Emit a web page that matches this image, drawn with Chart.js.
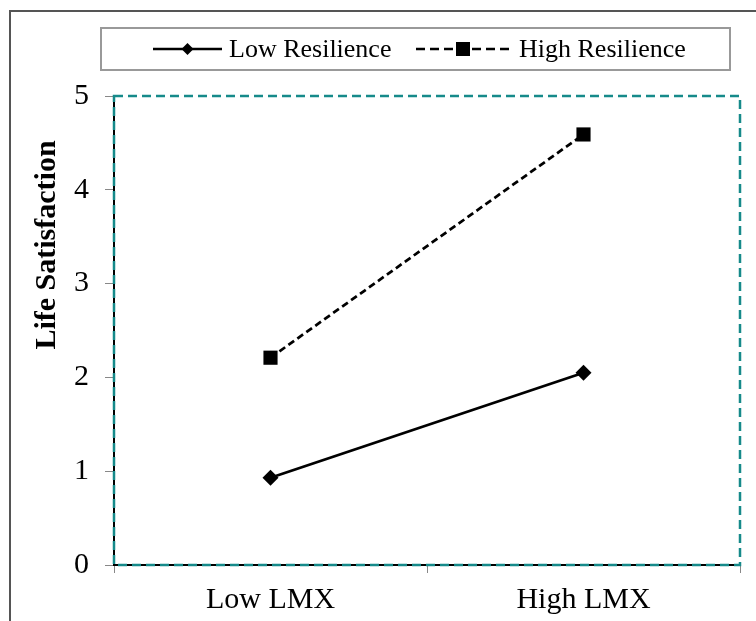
<!DOCTYPE html>
<html>
<head>
<meta charset="utf-8">
<script src="https://cdn.jsdelivr.net/npm/chart.js@4.4.1/dist/chart.umd.min.js"></script>
<style>
  html, body { margin: 0; padding: 0; background: #fff; }
  .chart-container { position: relative; width: 756px; height: 621px; }
</style>
</head>
<body>
<div class="chart-container"><canvas id="chart"></canvas></div>
<script>
const categories = ['Low LMX', 'High LMX'];
const seriesNames = ['Low Resilience', 'High Resilience'];
const lowResilience = [0.93, 2.05];
const highResilience = [2.21, 4.59];
const yTicks = [0, 1, 2, 3, 4, 5];
const yTitle = 'Life Satisfaction';

const serif = '"Liberation Serif", "Times New Roman", serif';
const teal = '#168a8a';

// legend sample placement (x of line start, line width, text x)
const legendSlots = [
    { x: 153, w: 69, textX: 229 },
    { x: 416, w: 94, textX: 519 }
];

const drawMarker = (ctx, style, x, y, r) => {
    ctx.beginPath();
    if (style === 'rectRot') {
        ctx.moveTo(x, y - r);
        ctx.lineTo(x + r, y);
        ctx.lineTo(x, y + r);
        ctx.lineTo(x - r, y);
        ctx.closePath();
    } else {
        ctx.rect(x - r, y - r, 2 * r, 2 * r);
    }
    ctx.fill();
}

const framePlugin = {
    id: 'frame',
    beforeDraw(chart) {
        const ctx = chart.ctx;
        ctx.save();
        ctx.strokeStyle = '#555';
        ctx.lineWidth = 2;
        ctx.strokeRect(10, 11, 800, 700);
        ctx.restore();
    },
    afterDraw(chart) {
        const { ctx, chartArea: a } = chart;
        ctx.save();
        // dashed plot area border
        ctx.strokeStyle = teal;
        ctx.lineWidth = 2.5;
        ctx.setLineDash([9, 5]);
        ctx.strokeRect(a.left, a.top, a.right - a.left, a.bottom - a.top);
        ctx.setLineDash([]);

        // legend
        ctx.strokeStyle = '#999';
        ctx.lineWidth = 2;
        ctx.strokeRect(101, 28, 629, 42);
        const ly = 49;
        chart.data.datasets.forEach((ds, i) => {
            const s = legendSlots[i];
            ctx.strokeStyle = '#000';
            ctx.fillStyle = '#000';
            ctx.lineWidth = 2.5;
            ctx.setLineDash(ds.borderDash ? [9, 5] : []);
            ctx.beginPath();
            ctx.moveTo(s.x, ly);
            ctx.lineTo(s.x + s.w, ly);
            ctx.stroke();
            ctx.setLineDash([]);
            drawMarker(ctx, ds.pointStyle, s.x + s.w / 2, ly, ds.pointStyle === 'rectRot' ? 6 : 7);
            ctx.font = '26px ' + serif;
            ctx.textAlign = 'left';
            ctx.textBaseline = 'middle';
            ctx.fillText(ds.label, s.textX, ly + 1);
        });

        // y axis title
        ctx.translate(47, 245);
        ctx.rotate(-Math.PI / 2);
        ctx.font = 'bold 30px ' + serif;
        ctx.fillStyle = '#000';
        ctx.textAlign = 'center';
        ctx.textBaseline = 'middle';
        ctx.fillText(yTitle, 0, 0);
        ctx.restore();
    }
};

new Chart(document.getElementById('chart').getContext('2d'), {
    type: 'line',
    data: {
        labels: categories,
        datasets: [{
            label: seriesNames[0],
            data: lowResilience,
            borderColor: '#000',
            backgroundColor: '#000',
            borderWidth: 2.75,
            pointStyle: 'rectRot',
            pointRadius: 8,
            pointBorderWidth: 0,
            tension: 0
        }, {
            label: seriesNames[1],
            data: highResilience,
            borderColor: '#000',
            backgroundColor: '#000',
            borderWidth: 2.75,
            borderDash: [7, 4],
            pointStyle: 'rect',
            pointRadius: 10,
            pointBorderWidth: 0,
            tension: 0
        }]
    },
    options: {
        responsive: true,
        maintainAspectRatio: false,
        animation: false,
        layout: { padding: { top: 96, right: 16, left: 0, bottom: 0 } },
        plugins: {
            legend: { display: false },
            tooltip: { enabled: false }
        },
        scales: {
            x: {
                offset: true,
                afterFit: (s) => { s.height = 56; },
                border: { color: '#000', width: 2 },
                grid: { offset: true, drawOnChartArea: false, tickLength: 8, color: '#888' },
                ticks: { font: { family: serif, size: 30 }, color: '#000', padding: 9 }
            },
            y: {
                min: 0,
                max: 5,
                afterFit: (s) => { s.width = 114; },
                afterBuildTicks: (s) => { s.ticks = yTicks.map(v => ({ value: v })); },
                border: { color: '#000', width: 2 },
                grid: { drawOnChartArea: false, tickLength: 9, color: '#888' },
                ticks: { font: { family: serif, size: 30 }, color: '#000', padding: 16 }
            }
        }
    },
    plugins: [framePlugin]
});
</script>
</body>
</html>
